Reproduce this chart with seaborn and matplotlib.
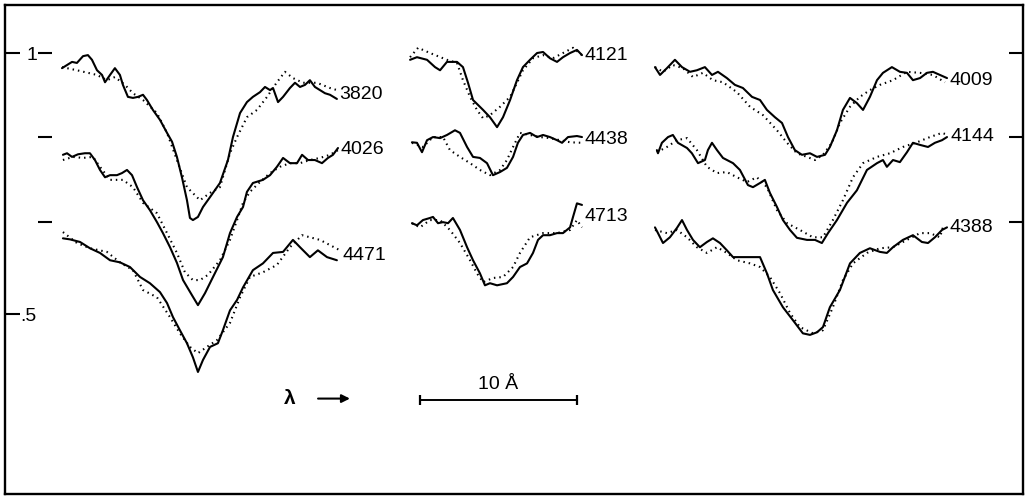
import numpy as np
import matplotlib
matplotlib.use("Agg")
import matplotlib.pyplot as plt
import seaborn as sns

# ---------------- data: wavelength offset (Angstrom) from line centre, normalised flux ----------------
# left column
L3820_SX = [-8.47,-8.15,-7.83,-7.52,-7.13,-6.82,-6.56,-6.24,-5.92,-5.73,-5.41,-5.10,-4.78,-4.59,-4.27,-3.95,-3.63,-3.31,-3.06,-2.68,-2.23,-1.78,-1.46,-1.15,-0.83,-0.51,-0.32,-0.13,0.19,0.51,0.96,1.59,2.10,2.42,2.87,3.31,3.69,4.14,4.46,4.78,4.97,5.29,5.61,6.05,6.37,6.69,7.01,7.32,7.64,7.96,8.28,8.60,9.04]
L3820_SY = [0.971,0.977,0.983,0.981,0.994,0.996,0.987,0.967,0.958,0.944,0.958,0.971,0.958,0.939,0.916,0.914,0.916,0.920,0.910,0.891,0.872,0.847,0.830,0.801,0.762,0.718,0.684,0.680,0.686,0.705,0.724,0.751,0.795,0.839,0.885,0.906,0.916,0.925,0.935,0.929,0.933,0.906,0.916,0.933,0.943,0.935,0.939,0.948,0.935,0.929,0.923,0.920,0.912]
L3820_DX = [-8.47,-7.52,-6.24,-5.61,-5.10,-4.46,-3.95,-3.31,-2.42,-1.78,-1.15,-0.51,0.32,0.96,1.59,2.23,2.68,3.31,3.95,4.59,5.22,5.73,6.24,6.88,7.77,8.60,9.04]
L3820_DY = [0.973,0.967,0.958,0.948,0.954,0.939,0.923,0.910,0.885,0.847,0.795,0.743,0.718,0.732,0.743,0.808,0.839,0.877,0.891,0.916,0.944,0.964,0.952,0.943,0.943,0.933,0.929]

L4026_SX = [-8.41,-8.15,-7.83,-7.45,-7.01,-6.69,-6.37,-6.05,-5.73,-5.41,-4.97,-4.65,-4.33,-4.01,-3.69,-3.31,-2.87,-2.42,-2.04,-1.59,-1.15,-0.76,-0.19,0.19,0.64,1.15,1.78,2.23,2.68,3.06,3.31,3.69,4.33,4.78,5.22,5.61,6.05,6.50,6.82,7.20,7.64,8.09,8.47,8.79,9.11]
L4026_SY = [0.966,0.969,0.962,0.967,0.969,0.969,0.956,0.937,0.923,0.927,0.927,0.931,0.937,0.927,0.904,0.879,0.860,0.837,0.816,0.789,0.759,0.726,0.697,0.678,0.701,0.732,0.770,0.816,0.847,0.866,0.895,0.912,0.918,0.927,0.943,0.960,0.950,0.950,0.966,0.956,0.956,0.950,0.960,0.966,0.979]
L4026_DX = [-8.41,-7.77,-7.13,-6.50,-6.05,-5.41,-4.59,-3.95,-3.31,-2.42,-1.78,-1.15,-0.64,-0.13,0.32,0.83,1.59,2.23,2.68,3.06,3.50,4.14,4.78,5.41,6.05,6.69,7.32,7.96,8.60,9.11]
L4026_DY = [0.956,0.962,0.960,0.962,0.943,0.918,0.918,0.904,0.874,0.854,0.816,0.778,0.741,0.726,0.726,0.736,0.764,0.803,0.841,0.874,0.895,0.914,0.931,0.943,0.950,0.950,0.956,0.960,0.966,0.975]

L4471_SX = [-8.41,-7.96,-7.32,-6.69,-6.05,-5.41,-4.78,-4.14,-3.50,-2.87,-2.23,-1.78,-1.40,-0.96,-0.51,-0.13,0.19,0.51,0.96,1.46,1.78,2.23,2.68,3.06,3.69,4.33,4.97,5.61,6.24,6.69,7.32,7.83,8.41,9.04]
L4471_SY = [0.969,0.967,0.962,0.950,0.941,0.927,0.923,0.914,0.895,0.883,0.866,0.845,0.818,0.793,0.768,0.741,0.713,0.736,0.761,0.768,0.793,0.831,0.851,0.875,0.908,0.921,0.941,0.943,0.966,0.952,0.933,0.946,0.933,0.927]
L4471_DX = [-8.41,-7.52,-6.69,-5.61,-4.78,-3.95,-3.31,-2.42,-1.59,-0.96,-0.32,0.19,0.76,1.40,2.23,2.87,3.50,4.33,5.22,6.05,6.82,7.96,9.24]
L4471_DY = [0.981,0.960,0.950,0.943,0.923,0.908,0.870,0.856,0.818,0.787,0.761,0.749,0.761,0.774,0.807,0.856,0.895,0.904,0.918,0.952,0.975,0.966,0.946]

# middle column
L4121_SX = [-5.41,-4.97,-4.33,-3.82,-3.50,-3.06,-2.42,-2.04,-1.72,-1.40,-0.76,-0.32,0.13,0.51,0.96,1.40,1.78,2.23,2.68,3.06,3.50,3.95,4.33,4.78,5.22,5.54]
L4121_SY = [0.987,0.992,0.987,0.973,0.967,0.983,0.983,0.973,0.943,0.910,0.891,0.877,0.858,0.877,0.910,0.948,0.973,0.987,1.000,1.002,0.990,0.983,0.992,1.000,1.006,0.996]
L4121_DX = [-5.41,-4.90,-4.14,-3.06,-2.42,-2.04,-1.59,-1.15,-0.76,-0.32,0.32,0.96,1.40,1.78,2.42,3.06,3.69,4.33,4.97,5.54]
L4121_DY = [0.992,1.010,1.000,0.987,0.981,0.948,0.916,0.891,0.875,0.881,0.897,0.916,0.943,0.967,0.990,0.996,0.990,1.000,1.010,0.996]

L4438_SX = [-5.29,-4.97,-4.65,-4.33,-3.95,-3.50,-3.06,-2.55,-2.23,-1.78,-1.40,-0.96,-0.51,-0.13,0.32,0.76,1.15,1.46,1.78,2.23,2.68,3.06,3.50,3.95,4.27,4.65,5.22,5.54]
L4438_SY = [0.990,0.989,0.971,0.994,1.000,0.998,1.004,1.013,1.008,0.981,0.962,0.960,0.950,0.927,0.933,0.941,0.962,0.989,1.004,1.008,1.000,1.004,1.000,0.994,0.989,1.000,1.002,1.000]
L4438_DX = [-5.29,-4.59,-3.95,-3.31,-2.87,-2.23,-1.59,-0.96,-0.32,0.32,0.76,1.15,1.59,2.23,2.87,3.50,4.14,4.78,5.54]
L4438_DY = [0.989,0.981,1.000,1.000,0.975,0.962,0.950,0.937,0.927,0.937,0.956,0.981,1.008,1.004,1.000,0.998,0.994,0.990,0.989]

L4713_SX = [-5.29,-4.97,-4.59,-4.14,-3.95,-3.63,-3.31,-2.99,-2.68,-2.23,-1.78,-1.40,-0.96,-0.64,-0.32,0.13,0.76,1.15,1.59,2.04,2.42,2.74,3.06,3.50,3.95,4.33,4.78,4.97,5.22,5.54]
L4713_SY = [0.998,0.994,1.004,1.008,1.010,0.998,1.000,0.998,1.008,0.985,0.952,0.927,0.902,0.879,0.883,0.879,0.883,0.895,0.914,0.921,0.941,0.966,0.975,0.975,0.979,0.979,0.990,1.010,1.036,1.033]
L4713_DX = [-5.29,-4.78,-4.14,-3.50,-2.87,-2.23,-1.59,-1.15,-0.76,-0.13,0.51,1.15,1.59,2.23,3.06,3.95,4.78,5.22,5.54]
L4713_DY = [0.998,0.990,1.004,1.004,0.985,0.960,0.927,0.902,0.885,0.893,0.895,0.914,0.941,0.971,0.979,0.979,0.985,1.004,0.990]

# right column
L4009_SX = [-9.87,-9.55,-9.11,-8.60,-8.15,-7.64,-7.20,-6.69,-6.24,-5.86,-5.29,-4.78,-4.27,-3.69,-3.18,-2.74,-2.23,-1.78,-1.40,-0.96,-0.51,0.00,0.45,0.96,1.27,1.72,2.10,2.55,2.99,3.38,3.82,4.27,4.65,5.22,5.73,6.18,6.56,7.01,7.45,7.83,8.28,8.73]
L4009_SY = [0.973,0.958,0.971,0.987,0.973,0.964,0.967,0.973,0.958,0.964,0.952,0.939,0.933,0.916,0.910,0.891,0.877,0.866,0.839,0.814,0.805,0.808,0.801,0.805,0.820,0.852,0.891,0.914,0.904,0.891,0.916,0.948,0.962,0.973,0.964,0.962,0.948,0.952,0.962,0.964,0.958,0.952]
L4009_DX = [-9.87,-9.36,-8.73,-8.09,-7.45,-6.82,-6.18,-5.54,-4.65,-3.82,-2.99,-2.10,-1.46,-0.83,-0.19,0.32,0.83,1.40,1.91,2.55,3.18,3.82,4.46,5.29,6.18,7.01,7.83,8.60]
L4009_DY = [0.973,0.964,0.977,0.971,0.954,0.962,0.948,0.944,0.925,0.897,0.881,0.852,0.828,0.808,0.801,0.795,0.805,0.828,0.866,0.897,0.916,0.929,0.939,0.948,0.964,0.962,0.958,0.944]

L4144_SX = [-9.75,-9.68,-9.43,-9.04,-8.73,-8.41,-7.83,-7.52,-7.13,-6.69,-6.50,-6.24,-5.92,-5.54,-4.90,-4.46,-3.95,-3.63,-3.18,-2.87,-2.55,-2.10,-1.72,-1.27,-0.83,-0.19,0.32,0.76,1.15,1.72,2.36,2.99,3.63,4.27,4.65,4.90,5.29,5.73,6.18,6.56,7.01,7.52,7.96,8.41,8.73]
L4144_SY = [0.975,0.969,0.989,1.000,1.004,0.989,0.979,0.969,0.950,0.956,0.975,0.989,0.975,0.960,0.950,0.937,0.908,0.904,0.912,0.918,0.893,0.866,0.841,0.822,0.807,0.803,0.803,0.797,0.816,0.841,0.874,0.898,0.937,0.950,0.956,0.943,0.956,0.952,0.971,0.989,0.985,0.981,0.989,0.994,1.000]
L4144_DX = [-9.75,-9.11,-8.47,-7.83,-7.20,-6.56,-5.92,-5.29,-4.65,-4.01,-3.38,-2.74,-2.10,-1.46,-0.64,0.19,0.83,1.46,2.10,2.74,3.38,4.27,5.10,5.92,6.82,7.64,8.41,8.79]
L4144_DY = [0.971,0.981,0.994,0.998,0.975,0.943,0.931,0.933,0.923,0.914,0.923,0.904,0.860,0.835,0.822,0.808,0.808,0.841,0.879,0.923,0.950,0.962,0.969,0.981,0.990,1.000,1.008,1.004]

L4388_SX = [-9.87,-9.68,-9.36,-8.92,-8.47,-8.15,-7.83,-7.45,-7.01,-6.56,-6.18,-5.73,-5.29,-4.90,-4.27,-3.63,-3.18,-2.74,-2.36,-1.72,-1.08,-0.45,0.00,0.45,0.83,1.27,1.91,2.55,3.18,3.82,4.46,4.90,5.29,5.92,6.56,7.13,7.52,7.96,8.41,8.73]
L4388_SY = [0.990,0.979,0.960,0.971,0.989,1.004,0.985,0.966,0.952,0.962,0.969,0.960,0.946,0.933,0.933,0.933,0.933,0.902,0.870,0.837,0.812,0.787,0.784,0.789,0.799,0.837,0.870,0.921,0.941,0.950,0.943,0.941,0.952,0.966,0.975,0.962,0.960,0.971,0.985,0.990]
L4388_DX = [-9.87,-9.11,-8.47,-7.83,-7.20,-6.56,-5.92,-5.29,-4.65,-3.82,-3.18,-2.55,-1.91,-1.27,-0.64,0.19,0.83,1.46,2.10,2.74,3.63,4.46,5.29,6.18,7.01,7.64,8.28,8.47]
L4388_DY = [0.985,0.979,0.985,0.971,0.952,0.941,0.952,0.941,0.927,0.921,0.914,0.895,0.864,0.826,0.799,0.787,0.793,0.837,0.889,0.921,0.941,0.950,0.952,0.966,0.979,0.979,0.971,0.990]

LINE_LABELS = ["3820", "4026", "4471", "4121", "4438", "4713", "4009", "4144", "4388"]
Y_TICKS = [0.5, 1.0]
Y_TICK_LABELS = [".5", "1"]
SCALE_BAR_ANGSTROM = 10

# ---------------- layout ----------------
COLUMN_CENTRE = [12.10, 31.21, 51.27]      # Angstrom along the plotting axis
ROW_OFFSET = [0.0, -0.161, -0.324]         # vertical shift of each row

lines = [
    ("3820", 0, 0, L3820_SX, L3820_SY, L3820_DX, L3820_DY),
    ("4026", 0, 1, L4026_SX, L4026_SY, L4026_DX, L4026_DY),
    ("4471", 0, 2, L4471_SX, L4471_SY, L4471_DX, L4471_DY),
    ("4121", 1, 0, L4121_SX, L4121_SY, L4121_DX, L4121_DY),
    ("4438", 1, 1, L4438_SX, L4438_SY, L4438_DX, L4438_DY),
    ("4713", 1, 2, L4713_SX, L4713_SY, L4713_DX, L4713_DY),
    ("4009", 2, 0, L4009_SX, L4009_SY, L4009_DX, L4009_DY),
    ("4144", 2, 1, L4144_SX, L4144_SY, L4144_DX, L4144_DY),
    ("4388", 2, 2, L4388_SX, L4388_SY, L4388_DX, L4388_DY),
]

sns.set_theme(style="white")
plt.rcParams["font.family"] = ["Liberation Sans", "DejaVu Sans"]
plt.rcParams["text.color"] = "black"

fig = plt.figure(figsize=(10.29, 5.01), dpi=100)
ax = fig.add_axes([5 / 1029, 7 / 501, 1018 / 1029, 489 / 501])
ax.set_xlim(0, 64.84)
ax.set_ylim(0.1552, 1.092)

FS = 14
for lab, col, row, sx, sy, dx, dy in lines:
    cx = COLUMN_CENTRE[col]
    off = ROW_OFFSET[row]
    sns.lineplot(x=np.array(sx) + cx, y=np.array(sy) + off, ax=ax, color="black",
                 lw=1.5, sort=False, estimator=None)
    sns.lineplot(x=np.array(dx) + cx, y=np.array(dy) + off, ax=ax, color="black",
                 lw=1.5, linestyle=(0, (0.7, 1.9)), sort=False, estimator=None)
    xe = max(sx[-1], dx[-1]) + cx
    ye = (sy[-1] + dy[-1]) / 2 + off
    ax.annotate(lab, xy=(xe, ye), xytext=(1.5, 0), textcoords="offset points",
                ha="left", va="center", fontsize=FS, color="black")

# frame
for s in ax.spines.values():
    s.set_visible(True)
    s.set_color("black")
    s.set_linewidth(1.7)

ax.set_xticks([])
ax.set_yticks(Y_TICKS)
ax.set_yticklabels(Y_TICK_LABELS)
ax.tick_params(axis="y", left=True, direction="in", length=11, width=1.5,
               pad=-23, labelsize=FS, colors="black")

# row continuum markers
levels = [1.0 + o for o in ROW_OFFSET]
ax.hlines(levels, 0.0324, 0.0462, transform=ax.get_yaxis_transform(),
          color="black", lw=1.5)

ax2 = ax.twinx()
ax2.set_ylim(ax.get_ylim())
ax2.set_yticks(levels)
ax2.set_yticklabels([])
ax2.tick_params(axis="y", right=True, direction="in", length=10, width=1.5, colors="black")
for s in ax2.spines.values():
    s.set_visible(False)

# scale bar
x0, yb = 26.43, 0.335
ax.plot([x0, x0 + SCALE_BAR_ANGSTROM], [yb, yb], color="black", lw=1.4,
        marker="|", markersize=7, markeredgewidth=1.6)
ax.annotate("10 Å", xy=(x0 + SCALE_BAR_ANGSTROM / 2, yb), xytext=(0, 5),
            textcoords="offset points", ha="center", va="bottom", fontsize=FS, color="black")

# wavelength direction
ax.text(18.15, 0.338, "λ", ha="center", va="center", fontsize=15, fontweight="bold", color="black")
ax.annotate("", xy=(21.97, 0.338), xytext=(19.94, 0.338),
            arrowprops=dict(arrowstyle="-|>", color="black", lw=1.5,
                            mutation_scale=12, shrinkA=0, shrinkB=0))

fig.savefig("out.png", dpi=100)
